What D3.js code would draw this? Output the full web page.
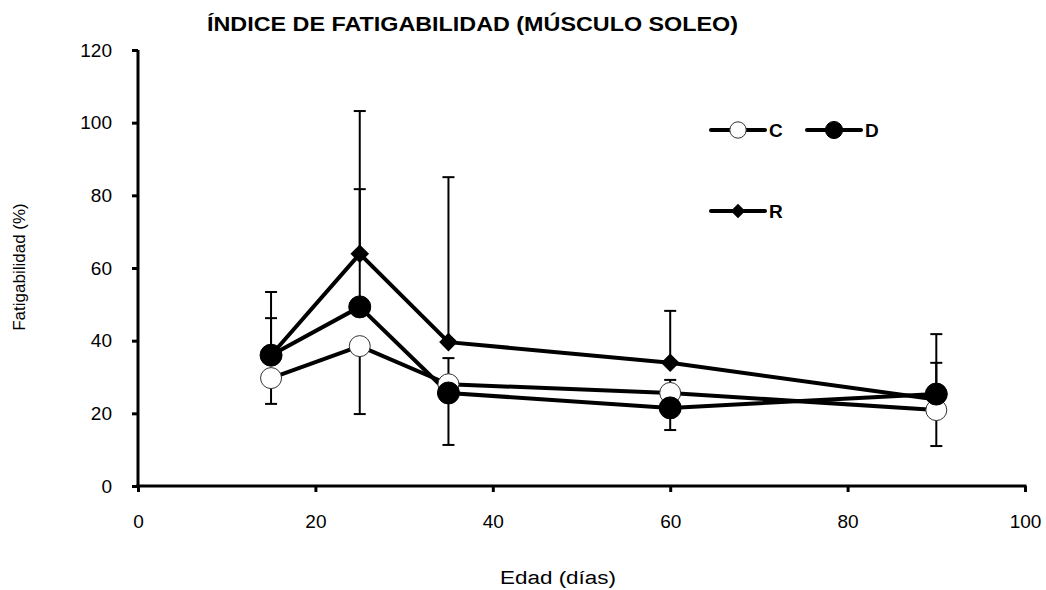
<!DOCTYPE html>
<html><head><meta charset="utf-8">
<script src="https://cdn.jsdelivr.net/npm/d3@7"></script>
<style>body{margin:0;background:#fff}svg{display:block}text{font-family:"Liberation Sans",Arial,sans-serif;fill:#000}</style>
</head><body><svg id="c" width="1046" height="590"></svg>
<script>
const days = [15, 25, 35, 60, 90];
const seriesNames = ["C", "D", "R"];
const valuesC = [29.7, 38.5, 28.0, 25.6, 20.9];
const valuesD = [36.0, 49.3, 25.6, 21.5, 25.3];
const valuesR = [36.0, 63.9, 39.6, 33.9, 23.8];
const errDownC = [7.1, 18.7, 16.7, 0, 9.9];
const errUpC = [0, 0, 0, 3.6, 0];
const errUpD = [10.2, 32.4, 9.6, 0, 8.6];
const errDownD = [0, 0, 0, 6.1, 0];
const errUpR = [17.4, 39.3, 45.4, 14.3, 18.0];
const xTicks = [0, 20, 40, 60, 80, 100];
const yTicks = [0, 20, 40, 60, 80, 100, 120];
const title = "ÍNDICE DE FATIGABILIDAD (MÚSCULO SOLEO)";
const xLabel = "Edad (días)";
const yLabel = "Fatigabilidad (%)";

const svg = d3.select("#c");
const x = d3.scaleLinear().domain([0, 100]).range([138, 1025]);
const y = d3.scaleLinear().domain([0, 120]).range([486, 50]);

// axes
const xAxis = svg.append("g").attr("transform", "translate(0,486)")
  .call(d3.axisBottom(x).tickValues(xTicks).tickSize(6).tickPadding(23).tickSizeOuter(0));
const yAxis = svg.append("g").attr("transform", "translate(138,0)")
  .call(d3.axisLeft(y).tickValues(yTicks).tickSize(6).tickPadding(20).tickSizeOuter(0));
[xAxis, yAxis].forEach(a => {
  a.attr("font-size", 19).attr("font-family", "Liberation Sans, Arial, sans-serif");
  a.select(".domain").attr("stroke", "#000").attr("stroke-width", 3);
  a.selectAll(".tick line").attr("stroke", "#000").attr("stroke-width", 3);
  a.selectAll(".tick text").attr("fill", "#000");
});
xAxis.select(".domain").attr("d", `M${x(0)-1.5},0H${x(100)+1.5}`);
yAxis.select(".domain").attr("d", `M0,${y(120)}V${y(0)+1.5}`);

const series = [
  {name: "C", vals: valuesC, up: errUpC, down: errDownC, marker: "circle", fill: "#fff"},
  {name: "D", vals: valuesD, up: errUpD, down: errDownD, marker: "circle", fill: "#000"},
  {name: "R", vals: valuesR, up: errUpR, down: days.map(() => 0), marker: "diamond", fill: "#000"}
];

// error bars
const eg = svg.append("g").attr("stroke", "#000").attr("stroke-width", 2);
series.forEach(s => {
  days.forEach((d, i) => {
    const v = s.vals[i];
    [[s.up[i], 1], [s.down[i], -1]].forEach(([e, dir]) => {
      if (!e) return;
      const yEnd = y(v + dir * e);
      eg.append("line").attr("x1", x(d)).attr("x2", x(d)).attr("y1", y(v)).attr("y2", yEnd);
      eg.append("line").attr("x1", x(d) - 6).attr("x2", x(d) + 6).attr("y1", yEnd).attr("y2", yEnd);
    });
  });
});

const line = d3.line().x((v, i) => x(days[i])).y(v => y(v));
const drawOrder = [series[2], series[0], series[1]];
drawOrder.forEach(s => {
  svg.append("path").attr("d", line(s.vals)).attr("fill", "none").attr("stroke", "#000").attr("stroke-width", 4).attr("stroke-linejoin", "round");
});
function marker(g, s, cx, cy, k) {
  if (s.marker === "circle") {
    g.append("circle").attr("cx", cx).attr("cy", cy).attr("r", (s.fill === "#fff" ? 10.5 : 11) * k)
      .attr("fill", s.fill).attr("stroke", s.fill === "#fff" ? "#333" : "#000").attr("stroke-width", 1);
  } else {
    g.append("path").attr("d", d3.symbol().type(d3.symbolDiamond2).size(220 * k * k)()).attr("transform", `translate(${cx},${cy})`).attr("fill", "#000");
  }
}
const mg = svg.append("g");
drawOrder.forEach(s => days.forEach((d, i) => marker(mg, s, x(d), y(s.vals[i]), 1)));

// legend
const legendPos = [{s: series[0], x: 711, y: 130}, {s: series[1], x: 807, y: 130}, {s: series[2], x: 711, y: 211}];
const lg = svg.append("g");
legendPos.forEach(p => {
  lg.append("line").attr("x1", p.x).attr("x2", p.x + 54).attr("y1", p.y).attr("y2", p.y).attr("stroke", "#000").attr("stroke-width", 4).attr("stroke-linecap", "round");
  marker(lg, p.s, p.x + 27, p.y, 0.78);
  lg.append("text").attr("x", p.x + 58).attr("y", p.y + 7).attr("font-size", 19).attr("font-weight", "bold").text(p.s.name);
});

svg.append("text").attr("x", 207).attr("y", 31).attr("font-size", 20).attr("font-weight", "bold")
  .attr("textLength", 531).attr("lengthAdjust", "spacingAndGlyphs").text(title);
svg.append("text").attr("x", 500).attr("y", 584).attr("font-size", 18)
  .attr("textLength", 116).attr("lengthAdjust", "spacingAndGlyphs").text(xLabel);
svg.append("text").attr("transform", "translate(25,267) rotate(-90)").attr("text-anchor", "middle").attr("font-size", 17).text(yLabel);
</script></body></html>
